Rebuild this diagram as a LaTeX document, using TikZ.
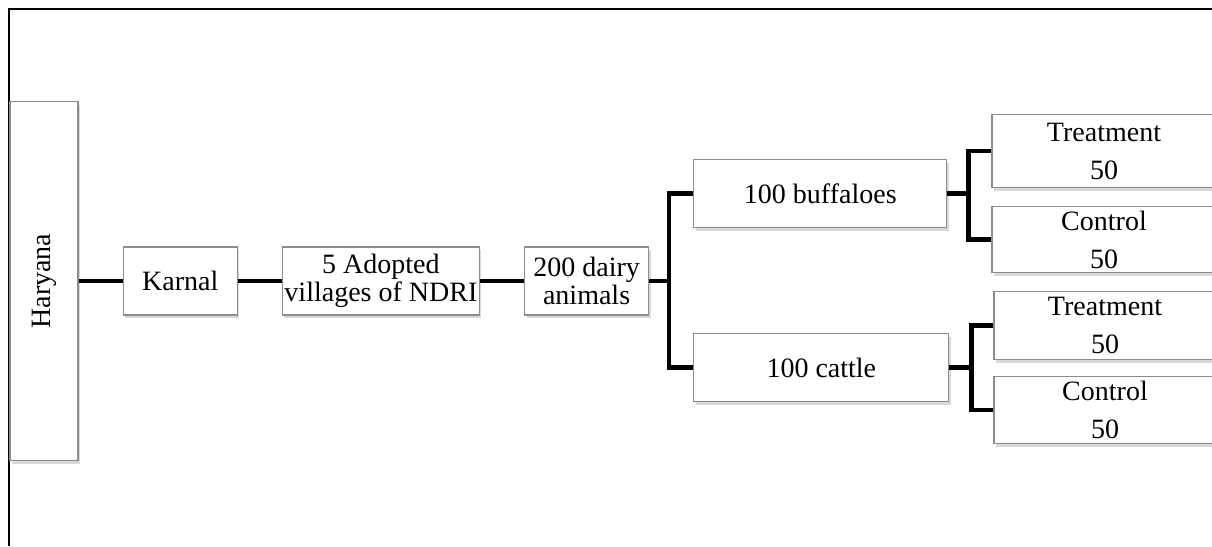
\documentclass[tikz,border=0pt]{standalone}
\usepackage{fontspec}
\usepackage{graphicx}
\setmainfont{Liberation Serif}
\usetikzlibrary{positioning,shadows}

\begin{document}
\begin{tikzpicture}[x=1pt,y=-1pt]
\tikzstyle{box}=[rectangle, draw=black!45, line width=1.2pt, fill=white, inner sep=1pt, align=center, minimum height=68pt, font=\fontsize{28}{28}\selectfont, drop shadow={shadow xshift=2pt, shadow yshift=-3pt, opacity=0.3}, node distance=44pt]
\tikzstyle{arm}=[box, minimum width=224pt]
\tikzstyle{connect}=[line width=4.5pt]
\useasboundingbox (0,0) rectangle (1212,546);
\draw[line width=1.5pt] (9,546) -- (9,9) -- (1212,9);
  \node[box, minimum width=68pt, minimum height=359pt] (haryana) at (44,281) {\rotatebox{90}{Haryana}};
  \node[box, minimum width=114pt] (karnal) [right =of haryana] {Karnal};
  \node[box, minimum width=197pt] (villages) [right =of karnal] {5 Adopted\\villages of NDRI};
  \node[box, minimum width=124pt] (dairy) [right =of villages] {200 dairy\\animals};
  \node[box, minimum width=253pt] (buff) [right =of dairy, yshift=87.5pt] {100 buffaloes};
  \node[box, minimum width=255pt] (cattle) [right =of dairy, yshift=-86.5pt] {100 cattle};
  \node[arm, minimum height=73pt] (treat1) [right =of buff, yshift=42.5pt] {Treatment\\[10pt]50};
  \node[arm, minimum height=66pt] (ctrl1) [right =of buff, yshift=-46pt] {Control\\[10pt]50};
  \node[arm, minimum width=222pt] (treat2) [right =of cattle, yshift=42pt] {Treatment\\[10pt]50};
  \node[arm, minimum width=222pt, minimum height=67pt] (ctrl2) [right =of cattle, yshift=-42.5pt] {Control\\[10pt]50};
\path[connect] (haryana) edge (karnal)
           (karnal) edge (villages)
           (villages) edge (dairy)
           ;
\draw[connect] (dairy.east) -- ++(20pt,0) |- (buff.west);
\draw[connect] (dairy.east) -- ++(20pt,0) |- (cattle.west);
\draw[connect] (buff.east) -- ++(21pt,0) |- (treat1.west);
\draw[connect] (buff.east) -- ++(21pt,0) |- (ctrl1.west);
\draw[connect] (cattle.east) -- ++(22pt,0) |- (treat2.west);
\draw[connect] (cattle.east) -- ++(22pt,0) |- (ctrl2.west);
\end{tikzpicture}
\end{document}
